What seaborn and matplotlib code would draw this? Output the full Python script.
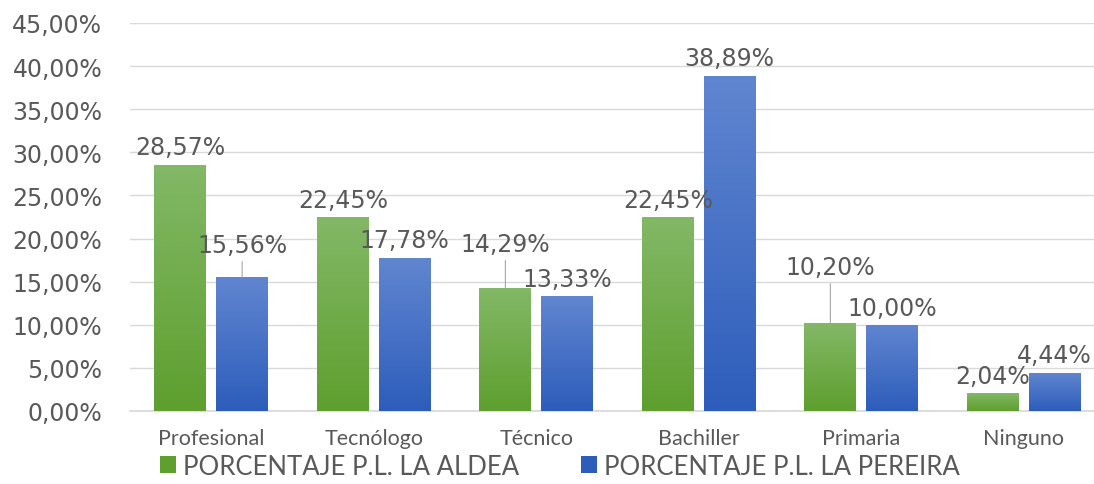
import numpy as np
import pandas as pd
import matplotlib
matplotlib.use("Agg")
import matplotlib.pyplot as plt
import seaborn as sns
from matplotlib.colors import LinearSegmentedColormap
from matplotlib.patches import Patch
from matplotlib.ticker import FuncFormatter

# data
categorias = ["Profesional", "Tecnólogo", "Técnico", "Bachiller", "Primaria", "Ninguno"]
series = ["PORCENTAJE P.L. LA ALDEA", "PORCENTAJE P.L. LA PEREIRA"]
aldea = [28.57, 22.45, 14.29, 22.45, 10.20, 2.04]
pereira = [15.56, 17.78, 13.33, 38.89, 10.00, 4.44]

df = pd.DataFrame({
    "categoria": categorias * 2,
    "serie": [series[0]] * len(categorias) + [series[1]] * len(categorias),
    "valor": [v / 100 for v in aldea + pereira],
})

# gradient colours (top, bottom) per series
grad = {
    series[0]: ("#83B867", "#5E9F2E"),
    series[1]: ("#6186D0", "#2D5DBB"),
}
# extra lift for the labels that Excel pushed up with a leader line
lift = {(series[0], "Técnico"): 0.031, (series[0], "Primaria"): 0.045,
        (series[1], "Profesional"): 0.017}

txt = "#595959"
grid = "#D9D9D9"

sns.set_theme(style="white")
plt.rcParams["font.family"] = ["DejaVu Sans"]

fig = plt.figure(figsize=(10.94, 4.85), dpi=100)
ax = fig.add_axes([130 / 1094, 73 / 485, 975 / 1094, 388 / 485])

sns.barplot(data=df, x="categoria", y="valor", hue="serie", order=categorias,
            hue_order=series, width=0.76, gap=0.16, palette=["#6AA83C", "#3F6DC5"],
            legend=False, ax=ax, zorder=3)

# replace flat fills by vertical gradients
bars = ax.patches[:len(df)]
for i, bar in enumerate(bars):
    s = series[i // len(categorias)]
    cmap = LinearSegmentedColormap.from_list(s, [grad[s][1], grad[s][0]])
    x0, w, h = bar.get_x(), bar.get_width(), bar.get_height()
    g = np.linspace(0, 1, 256).reshape(-1, 1)
    im = ax.imshow(g, cmap=cmap, origin="lower", aspect="auto",
                   extent=[x0, x0 + w, 0, h], zorder=3)
    im.set_clip_path(bar)
    bar.set_facecolor("none")
    bar.set_edgecolor("none")

    cat = categorias[i % len(categorias)]
    xc = x0 + w / 2
    up = lift.get((s, cat), 0)
    label = f"{h * 100:.2f}%".replace(".", ",")
    if up:
        ax.annotate(label, xy=(xc, h), xytext=(xc, h + 0.02 + up),
                    ha="center", va="center", fontsize=17, color=txt, zorder=5,
                    arrowprops=dict(arrowstyle="-", color="#A6A6A6", lw=0.8,
                                    shrinkA=1, shrinkB=0))
    else:
        ax.text(xc, h + 0.02, label, ha="center", va="center",
                fontsize=17, color=txt, zorder=5)

ax.set_xlim(-0.5, len(categorias) - 0.5)
ax.set_ylim(0, 0.45)
ax.set_yticks(np.arange(0, 0.451, 0.05))
ax.yaxis.set_major_formatter(FuncFormatter(lambda v, p: f"{v * 100:.2f}%".replace(".", ",")))
ax.yaxis.grid(True, color=grid, lw=1, zorder=0)
ax.set_axisbelow(True)
ax.tick_params(axis="y", length=0, pad=20, labelsize=17, labelcolor=txt)
ax.tick_params(axis="x", length=0, pad=12, labelsize=15.5, labelcolor=txt)
for t in ax.get_xticklabels():
    t.set_family(["Lato", "DejaVu Sans"])
ax.set_xlabel("")
ax.set_ylabel("")
for side in ["top", "right", "left"]:
    ax.spines[side].set_visible(False)
ax.spines["bottom"].set_color(grid)

handles = [Patch(facecolor=grad[s][1], edgecolor="none", label=s) for s in series]
fig.legend(handles=handles, loc="center", bbox_to_anchor=(0.512, 0.037), ncol=2,
           frameon=False, handlelength=0.6, handleheight=0.6, handletextpad=0.3,
           columnspacing=2.4, prop={"family": ["Lato", "DejaVu Sans"], "size": 18.5},
           labelcolor=txt)

fig.savefig("out.png", dpi=100)
